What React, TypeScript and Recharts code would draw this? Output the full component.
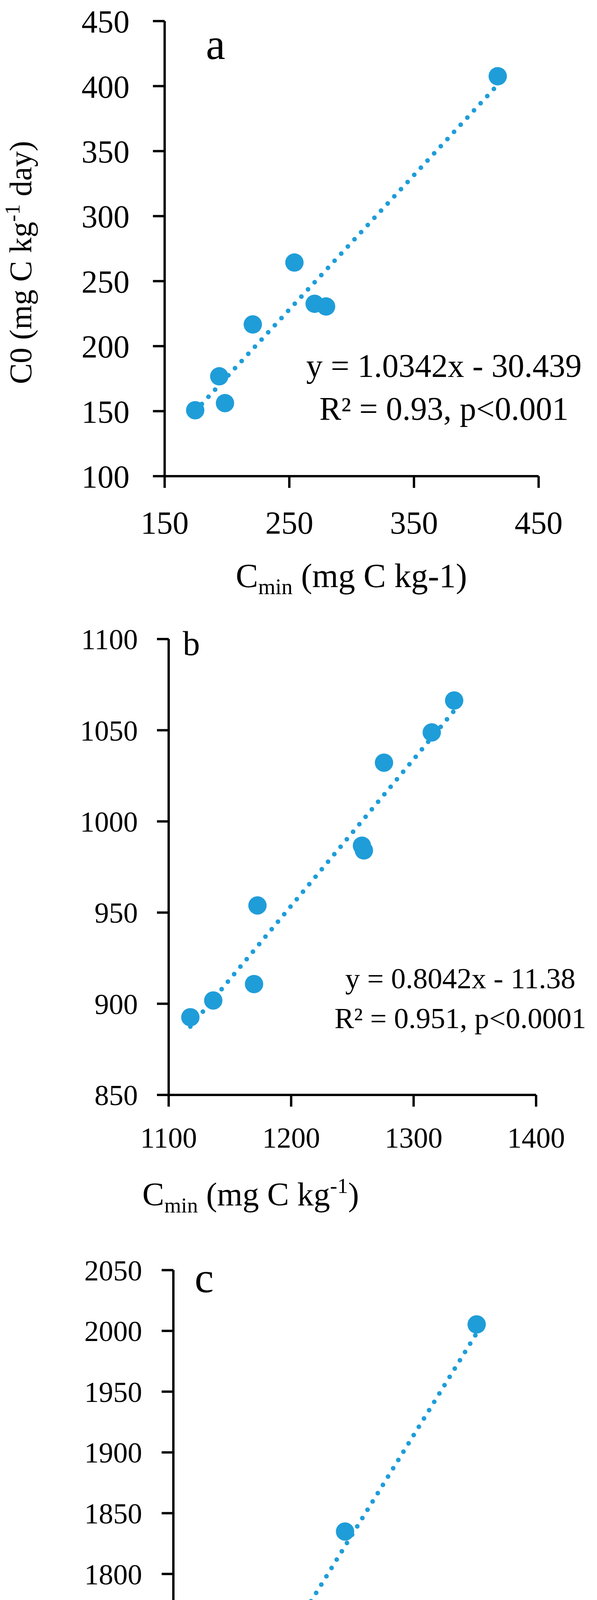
import React from 'react';
import { ScatterChart, Scatter, XAxis, YAxis } from 'recharts';

// panel a
const aCmin = [174.5, 193.8, 198.4, 220.7, 254.1, 270.3, 279.5, 417.2];
const aC0 = [150.7, 176.8, 156.2, 216.7, 264.3, 232.6, 230.5, 407.6];
const aFit = [1.0342, -30.439];
const aXTicks = [150, 250, 350, 450];
const aYTicks = [100, 150, 200, 250, 300, 350, 400, 450];

// panel b
const bCmin = [1117.7, 1136.4, 1169.7, 1172.5, 1257.8, 1259.4, 1275.8, 1314.8, 1333.1];
const bC0 = [892.6, 901.8, 910.8, 953.9, 986.7, 984.1, 1032.2, 1048.8, 1066.3];
const bFit = [0.8042, -11.38];
const bXTicks = [1100, 1200, 1300, 1400];
const bYTicks = [850, 900, 950, 1000, 1050, 1100];

// panel c
const cCmin = [2095.9, 2125.5, 2125.5, 2140.5, 2159.8, 2176.7, 2233.4, 2271.4, 2479.5];
const cC0 = [1684.5, 1710.8, 1705.2, 1714.0, 1738.7, 1725.5, 1769.9, 1834.9, 2005.3];
const cFit = [0.842, -89.638];
const cXTicks = [2000, 2200, 2400, 2600];
const cYTicks = [1650, 1700, 1750, 1800, 1850, 1900, 1950, 2000, 2050];

const BLUE = '#1f9dd9';
const FONT = '"Liberation Serif", "Times New Roman", serif';

function Panel({ top, height, margin, xs, ys, fit, xTicks, yTicks, tickFont, yTickMargin, xTickMargin, texts }) {
  const pts = xs.map((x, i) => ({ x, y: ys[i] }));
  const lo = Math.min(...xs);
  const hi = Math.max(...xs);
  // trendline over the data range, from the fitted equation shown on the chart
  const trend = [lo, hi].map((x) => ({ x, y: fit[0] * x + fit[1] }));
  const axisStyle = { stroke: '#000', strokeWidth: 6 };
  const tick = { fontSize: tickFont, fontFamily: FONT, fill: '#000' };

  return (
    <div style={{ position: 'absolute', left: 0, top, width: 1529, height }}>
      <ScatterChart width={1529} height={height} margin={margin}>
        <XAxis
          type="number"
          dataKey="x"
          domain={[xTicks[0], xTicks[xTicks.length - 1]]}
          ticks={xTicks}
          interval={0}
          height={150}
          tickSize={30}
          tickMargin={xTickMargin}
          axisLine={axisStyle}
          tickLine={axisStyle}
          tick={tick}
          label={{ content: () => texts }}
        />
        <YAxis
          type="number"
          dataKey="y"
          domain={[yTicks[0], yTicks[yTicks.length - 1]]}
          ticks={yTicks}
          interval={0}
          width={300}
          tickSize={30}
          tickMargin={yTickMargin}
          axisLine={axisStyle}
          tickLine={axisStyle}
          tick={tick}
        />
        <Scatter
          data={trend}
          isAnimationActive={false}
          fill={BLUE}
          shape={() => <g />}
          line={{ stroke: BLUE, strokeWidth: 12, strokeDasharray: '0 25', strokeLinecap: 'round' }}
        />
        <Scatter
          data={pts}
          isAnimationActive={false}
          fill={BLUE}
          shape={(p) => <circle cx={p.cx} cy={p.cy} r={23.5} fill={BLUE} />}
        />
      </ScatterChart>
    </div>
  );
}

function XTitle({ x, y, size, sup }) {
  return (
    <text x={x} y={y} textAnchor="middle" fontFamily={FONT} fontSize={size} fill="#000">
      C
      <tspan fontSize={size * 0.66} dy={18}>min</tspan>
      <tspan dy={-18}> (mg C kg</tspan>
      {sup ? (
        <>
          <tspan fontSize={size * 0.66} dy={-32}>-1</tspan>
          <tspan dy={32}>)</tspan>
        </>
      ) : (
        <tspan>-1)</tspan>
      )}
    </text>
  );
}

function Equation({ x, y1, y2, size, l1, l2 }) {
  return (
    <g fontFamily={FONT} fontSize={size} fill="#000">
      <text x={x} y={y1} textAnchor="middle">{l1}</text>
      <text x={x} y={y2} textAnchor="middle">{l2}</text>
    </g>
  );
}

const aTexts = (
  <g>
    <text x={552} y={151} textAnchor="middle" fontFamily={FONT} fontSize={112} fill="#000">a</text>
    <Equation x={1137} y1={965} y2={1075} size={84} l1="y = 1.0342x - 30.439" l2="R² = 0.93, p<0.001" />
    <XTitle x={900} y={1503} size={86} sup={false} />
    <text x={80} y={672} transform="rotate(-90 80 672)" textAnchor="middle" fontFamily={FONT} fontSize={80} fill="#000">
      C0 (mg C kg
      <tspan fontSize={54} dy={-30}>-1</tspan>
      <tspan dy={30}> day)</tspan>
    </text>
  </g>
);

const bTexts = (
  <g>
    <text x={490} y={117} textAnchor="middle" fontFamily={FONT} fontSize={88} fill="#000">b</text>
    <Equation x={1179} y1={970} y2={1072} size={75} l1="y = 0.8042x - 11.38" l2="R² = 0.951, p<0.0001" />
    <XTitle x={642} y={1526} size={84} sup />
  </g>
);

const cTexts = (
  <g>
    <text x={523} y={188} textAnchor="middle" fontFamily={FONT} fontSize={110} fill="#000">c</text>
    <Equation x={1179} y1={1102} y2={1204} size={75} l1="y = 0.842x - 89.638" l2="R² = 0.9851, p<0.0001" />
    <XTitle x={625} y={1623} size={84} sup />
  </g>
);

export default function App() {
  return (
    <div style={{ position: 'relative', margin: '-8px 0 0 -8px', width: 1529, height: 4780, background: '#fff', overflow: 'hidden' }}>
      <Panel
        top={0}
        height={1560}
        margin={{ top: 54, left: 121.7, right: 149.5, bottom: 191 }}
        xs={aCmin}
        ys={aC0}
        fit={aFit}
        xTicks={aXTicks}
        yTicks={aYTicks}
        tickFont={82}
        yTickMargin={60}
        xTickMargin={59}
        texts={aTexts}
      />
      <Panel
        top={1560}
        height={1560}
        margin={{ top: 76, left: 132, right: 156, bottom: 167 }}
        xs={bCmin}
        ys={bC0}
        fit={bFit}
        xTicks={bXTicks}
        yTicks={bYTicks}
        tickFont={74}
        yTickMargin={49}
        xTickMargin={52}
        texts={bTexts}
      />
      <Panel
        top={3120}
        height={1660}
        margin={{ top: 131.5, left: 144, right: 113, bottom: 134 }}
        xs={cCmin}
        ys={cC0}
        fit={cFit}
        xTicks={cXTicks}
        yTicks={cYTicks}
        tickFont={74}
        yTickMargin={50}
        xTickMargin={54}
        texts={cTexts}
      />
    </div>
  );
}
